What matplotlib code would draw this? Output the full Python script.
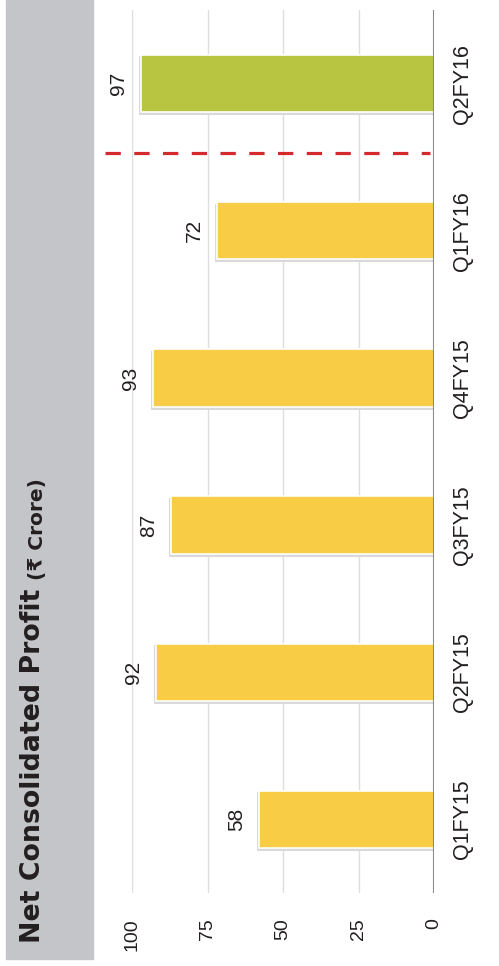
import matplotlib
matplotlib.use("Agg")
import matplotlib.pyplot as plt
from matplotlib.patches import Rectangle

plt.rcParams['font.family'] = ['Liberation Sans', 'DejaVu Sans']

quarters = ["Q1FY15", "Q2FY15", "Q3FY15", "Q4FY15", "Q1FY16", "Q2FY16"]
profit = [58, 92, 87, 93, 72, 97]
bar_colors = ["#f8cd45", "#f8cd45", "#f8cd45", "#f8cd45", "#f8cd45", "#b8c540"]
ticks = [0, 25, 50, 75, 100]

W, H = 499, 966
fig = plt.figure(figsize=(W / 100, H / 100), dpi=100)

# grey title band on the left
fig.patches.append(Rectangle((6 / W, 1 - 959 / H), 87 / W, 959 / H,
                             transform=fig.transFigure, color="#c4c5c9", zorder=0))
fig.text(40 / W, 1 - 943 / H, "Net Consolidated Profit", rotation=90,
         rotation_mode="anchor", ha="left", va="baseline", family="DejaVu Sans",
         fontsize=19.3, fontweight="bold", color="#231f20")
fig.text(43 / W, 1 - 580 / H, "(\u20b9 Crore)", rotation=90,
         rotation_mode="anchor", ha="left", va="baseline", family="DejaVu Sans",
         fontsize=14.5, fontweight="bold", color="#231f20")

ax = fig.add_axes([132 / W, 1 - 893 / H, (434 - 132) / W, 883 / H])
pos = list(range(len(quarters)))
# faint shadow under each bar, then the bar itself
ax.barh([p - 0.015 for p in pos], [v + 0.6 for v in profit], height=0.40,
        color="#d9d9d9", zorder=2)
ax.barh(pos, profit, height=0.39, color=bar_colors, edgecolor="white",
        linewidth=1.2, zorder=3)
ax.set_xlim(100, 0)
ax.set_ylim(-0.5, 5.5)

for t in ticks:
    ax.axvline(t, color="#dedede", lw=1, zorder=1)
ax.axvline(0, color="#8a8a8a", lw=1.5, zorder=4)

for i, v in enumerate(profit):
    ax.text(v + 7.5, i, str(v), rotation=90, ha="center", va="center",
            fontsize=15, color="#231f20")

# dashed separator between FY15/FY16 periods
ax.plot([109, 1.3], [4.53, 4.53], color="#d42a2f", lw=2.3,
        dashes=(4.8, 4.2), clip_on=False, zorder=5)

for s in ax.spines.values():
    s.set_visible(False)
ax.set_xticks(ticks)
ax.set_xticklabels([str(t) for t in ticks], rotation=90, fontsize=14,
                   color="#231f20")
ax.tick_params(axis="x", length=0, pad=18)
ax.yaxis.tick_right()
ax.set_yticks(pos)
ax.set_yticklabels(quarters, rotation=90, va="center", fontsize=15.5,
                   color="#231f20")
ax.tick_params(axis="y", length=0, pad=13)

fig.savefig("out.png", dpi=100)
